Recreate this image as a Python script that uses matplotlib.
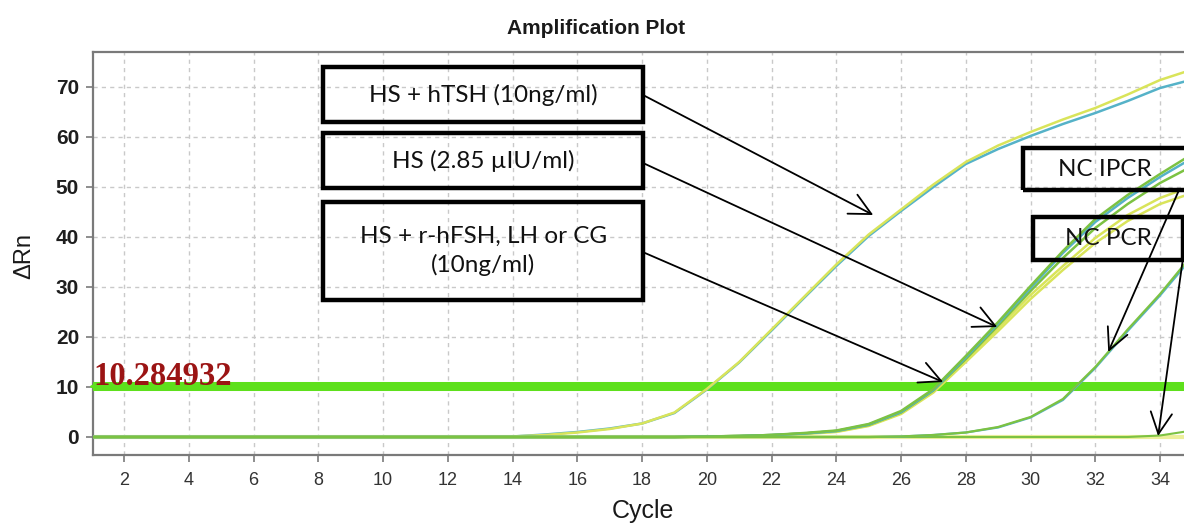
import matplotlib
matplotlib.use("Agg")
import matplotlib.pyplot as plt
from matplotlib.patches import Rectangle

# ---- data -------------------------------------------------------------
cycles = list(range(1, 36))

# HS + hTSH (10 ng/ml) replicates
htsh_yellow = [0, 0, 0, 0, 0, 0, 0, 0, 0, 0, 0, 0, 0, 0.1, 0.4, 0.9, 1.6, 2.7, 4.9, 9.6,
               15.0, 21.5, 28.0, 34.5, 40.5, 45.5, 50.5, 55.0, 58.3, 61.0, 63.5, 65.8, 68.5, 71.4, 73.5]
htsh_blue = [0, 0, 0, 0, 0, 0, 0, 0, 0, 0, 0, 0, 0, 0.1, 0.5, 1.0, 1.7, 2.7, 4.8, 9.5,
             14.9, 21.3, 27.8, 34.2, 40.2, 45.2, 50.0, 54.6, 57.6, 60.2, 62.6, 64.8, 67.2, 69.8, 71.5]

# HS (2.85 uIU/ml) and HS + r-hFSH, LH or CG (10 ng/ml) replicates
hs_green_a = [0, 0, 0, 0, 0, 0, 0, 0, 0, 0, 0, 0, 0, 0, 0, 0, 0, 0, 0, 0.1,
              0.2, 0.4, 0.8, 1.3, 2.6, 5.2, 9.6, 16.2, 23.0, 30.2, 37.2, 43.6, 48.4, 52.6, 56.6]
hs_blue_b = [0, 0, 0, 0, 0, 0, 0, 0, 0, 0, 0, 0, 0, 0, 0, 0, 0, 0, 0, 0.1,
             0.2, 0.4, 0.7, 1.2, 2.5, 5.0, 9.4, 15.9, 22.7, 29.8, 36.8, 43.0, 47.8, 52.0, 55.8]
hs_green_c = [0, 0, 0, 0, 0, 0, 0, 0, 0, 0, 0, 0, 0, 0, 0, 0, 0, 0, 0, 0.1,
              0.2, 0.4, 0.7, 1.2, 2.4, 4.9, 9.3, 15.6, 22.3, 29.2, 35.8, 41.8, 46.6, 50.8, 54.2]
hs_yellow_d = [0, 0, 0, 0, 0, 0, 0, 0, 0, 0, 0, 0, 0, 0, 0, 0, 0, 0, 0, 0.1,
               0.2, 0.4, 0.7, 1.1, 2.3, 4.8, 9.2, 15.4, 21.8, 28.4, 34.2, 39.8, 44.4, 47.8, 50.2]
hs_yellow_e = [0, 0, 0, 0, 0, 0, 0, 0, 0, 0, 0, 0, 0, 0, 0, 0, 0, 0, 0, 0.1,
               0.2, 0.3, 0.6, 1.0, 2.2, 4.6, 8.9, 15.0, 21.2, 27.6, 33.4, 38.8, 43.2, 46.6, 48.8]

# late-rising wells
nc_green = [0, 0, 0, 0, 0, 0, 0, 0, 0, 0, 0, 0, 0, 0, 0, 0, 0, 0, 0, 0,
            0, 0, 0, 0, 0, 0.1, 0.4, 0.9, 2.0, 4.0, 7.6, 14.0, 21.5, 28.6, 36.5]
nc_blue = [0, 0, 0, 0, 0, 0, 0, 0, 0, 0, 0, 0, 0, 0, 0, 0, 0, 0, 0, 0,
           0, 0, 0, 0, 0, 0.1, 0.4, 0.9, 1.9, 3.9, 7.4, 13.8, 21.2, 28.3, 36.0]

# flat negative wells
flat_yellow = [0, 0, 0, 0, 0, 0, 0, 0, 0, 0, 0, 0, 0, 0, 0, 0, 0, 0, 0, 0,
               0, 0, 0, 0, 0, 0, 0, 0, 0, 0, 0, 0, 0, 0, 0]
flat_green = [0, 0, 0, 0, 0, 0, 0, 0, 0, 0, 0, 0, 0, 0, 0, 0, 0, 0, 0, 0,
              0, 0, 0, 0, 0, 0, 0, 0, 0, 0, 0, 0, 0, 0.3, 1.3]

threshold = 10.284932
x_ticks = list(range(2, 35, 2))
y_ticks = list(range(0, 71, 10))

# ---- styling -----------------------------------------------------------
YELLOW = "#d9e45a"
GREEN = "#7cc242"
BLUE = "#55b2c8"
THRESH = "#5ee01c"

fig = plt.figure(figsize=(11.84, 5.25), dpi=100)
ax = fig.add_axes([93 / 1184, 1 - 455 / 525, 1 - 93 / 1184, (455 - 52) / 525])
ax.set_xlim(1.04, 34.74)
ax.set_ylim(-3.6, 77)

ax.set_xticks(x_ticks)
ax.set_yticks(y_ticks)
ax.grid(True, color="#c9c9c9", linestyle=(0, (3, 3)), linewidth=1.0)
ax.set_axisbelow(True)

for side in ("left", "bottom", "top"):
    ax.spines[side].set_color("#7a7a7a")
    ax.spines[side].set_linewidth(1.6)
ax.spines["right"].set_visible(False)
ax.tick_params(axis="both", direction="out", length=5, width=1.2, color="#7a7a7a")
ax.tick_params(axis="y", labelsize=15, labelcolor="#1e1e1e", pad=5)
ax.tick_params(axis="x", labelsize=13, labelcolor="#333333", pad=7)
for lab in ax.get_yticklabels():
    lab.set_family("Liberation Sans")
    lab.set_weight("bold")
for lab in ax.get_xticklabels():
    lab.set_family("Liberation Sans")

# flat wells and threshold
ax.plot(cycles, flat_yellow, color="#ecef9a", lw=3.0, zorder=2)
ax.plot(cycles, flat_green, color=GREEN, lw=1.5, zorder=2)
ax.axhline(threshold, color=THRESH, lw=6.5, zorder=3)
ax.plot([1.04], [threshold], marker="<", ms=5, color=THRESH, clip_on=False, zorder=3)

# amplification curves
ax.plot(cycles, htsh_blue, color=BLUE, lw=1.8, zorder=4)
ax.plot(cycles, htsh_yellow, color=YELLOW, lw=1.8, zorder=4)
ax.plot(cycles, hs_yellow_e, color=YELLOW, lw=1.8, zorder=4)
ax.plot(cycles, hs_yellow_d, color=YELLOW, lw=1.8, zorder=4)
ax.plot(cycles, hs_green_c, color=GREEN, lw=1.8, zorder=4)
ax.plot(cycles, hs_blue_b, color=BLUE, lw=1.8, zorder=4)
ax.plot(cycles, hs_green_a, color=GREEN, lw=1.8, zorder=4)
ax.plot(cycles, nc_blue, color=BLUE, lw=1.6, zorder=4)
ax.plot(cycles, nc_green, color=GREEN, lw=1.6, zorder=4)

# threshold value label
ax.text(1.04, threshold + 0.2, f"{threshold:.6f}", family="Liberation Serif",
        weight="bold", fontsize=23.5, color="#9b1414", ha="left", va="baseline", zorder=5)

# annotation boxes (outlined, see-through)
box_font = dict(family="Lato", fontsize=17.5, color="#111111", ha="center", va="center", zorder=7)
boxes = [
    (8.15, 63.0, 9.88, 11.0, "HS + hTSH (10ng/ml)"),
    (8.15, 49.8, 9.88, 11.0, "HS (2.85 µIU/ml)"),
    (8.15, 27.4, 9.88, 19.6, "HS + r-hFSH, LH or CG\n(10ng/ml)"),
    (29.77, 49.4, 6.0, 8.4, None),
    (30.08, 35.4, 4.63, 8.6, "NC PCR"),
]
for x0, y0, w, h, label in boxes:
    ax.add_patch(Rectangle((x0, y0), w, h, facecolor="none", edgecolor="black",
                           lw=3.2, zorder=6, clip_on=False))
    if label:
        ax.text(x0 + w / 2, y0 + h / 2, label, linespacing=1.4, **box_font)
ax.text(32.3, 53.6, "NC IPCR", **box_font)

# arrows from the boxes to the curves
arrow_kw = dict(arrowstyle="->,head_length=0.7,head_width=0.35", color="black",
                lw=1.3, mutation_scale=22, shrinkA=0, shrinkB=0)
arrows = [
    ((18.03, 68.4), (25.14, 44.4)),
    ((18.03, 54.8), (28.97, 22.0)),
    ((18.09, 36.8), (27.30, 11.0)),
    ((34.56, 49.0), (32.40, 17.0)),
    ((34.71, 35.8), (33.94, 0.2)),
]
for start, end in arrows:
    ax.annotate("", xy=end, xytext=start, arrowprops=arrow_kw, zorder=8,
                annotation_clip=False)

# titles
fig.text(596 / 1184, 1 - 29 / 525, "Amplification Plot", family="Liberation Sans",
         weight="bold", fontsize=15, color="#1a1a1a", ha="center", va="center")
fig.text(643 / 1184, 1 - 511 / 525, "Cycle", family="Liberation Sans",
         fontsize=18, color="#1a1a1a", ha="center", va="center")
fig.text(24 / 1184, 1 - 256 / 525, "ΔRn", family="Liberation Sans",
         fontsize=17, color="#1a1a1a", ha="center", va="center", rotation=90)

fig.savefig("out.png", dpi=100)
